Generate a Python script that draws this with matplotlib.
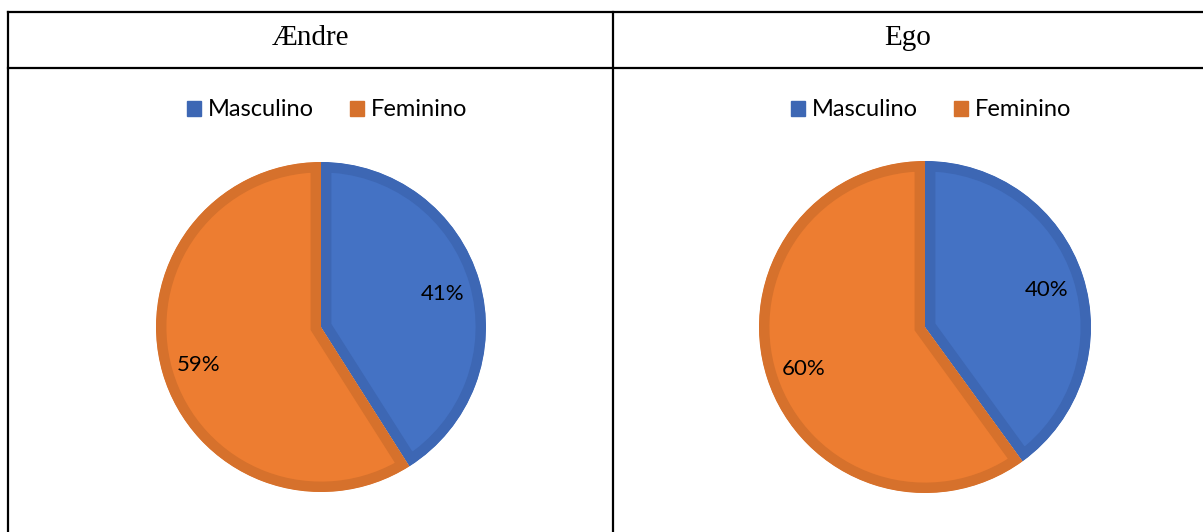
import matplotlib.pyplot as plt
from matplotlib.lines import Line2D
from matplotlib.patches import Patch

W, H = 1203, 532

titles = ["Ændre", "Ego"]
labels = ["Masculino", "Feminino"]
values_aendre = [41, 59]
values_ego = [40, 60]

fill_colors = ["#4472C4", "#ED7D31"]
edge_colors = ["#3D67B4", "#D6712C"]

plt.rcParams['font.family'] = ['Lato', 'DejaVu Sans']

fig = plt.figure(figsize=(W / 100, H / 100), dpi=100)


def fx(x):
    return x / W


def fy(y):
    return 1 - y / H


def hline(y, x0, x1):
    fig.add_artist(Line2D([fx(x0), fx(x1)], [fy(y), fy(y)], color="black", lw=1.6))


def vline(x, y0, y1):
    fig.add_artist(Line2D([fx(x), fx(x)], [fy(y0), fy(y1)], color="black", lw=1.6))


# table grid
hline(12, 8, W)
hline(68, 8, W)
vline(8, 12, H)
vline(613, 12, H)


def draw_cell(title, values, tx, cx, cy, r):
    fig.text(fx(tx), fy(38), title, ha="center", va="center", fontsize=21,
             family=["Liberation Serif", "DejaVu Serif"])
    ax = fig.add_axes([fx(cx - r), fy(cy + r), 2 * r / W, 2 * r / H])
    wedges, _, autotexts = ax.pie(values, colors=fill_colors, startangle=90,
                                  counterclock=False, autopct="%1.0f%%",
                                  pctdistance=0.77, radius=1,
                                  wedgeprops=dict(linewidth=15, joinstyle="miter"),
                                  textprops=dict(fontsize=16, color="black"))
    # keep only the inner half of the outline, like the office-style border
    for w, ec in zip(wedges, edge_colors):
        w.set_edgecolor(ec)
        w.set_clip_path(w)
        w.set_clip_on(True)
    for t in autotexts:
        x, y = t.get_position()
        t.set_position((x, y - 0.015))
    ax.set_xlim(-1, 1)
    ax.set_ylim(-1, 1)
    ax.set_aspect("equal")
    ax.axis("off")
    handles = [Patch(facecolor=c, edgecolor=c) for c in edge_colors]
    fig.legend(handles, labels, loc="center", bbox_to_anchor=(fx(cx + 6), fy(110)),
               ncol=2, frameon=False, fontsize=17, handlelength=0.6,
               handleheight=0.6, handletextpad=0.3, columnspacing=1.5)


draw_cell(titles[0], values_aendre, 311, 321, 327, 165)
draw_cell(titles[1], values_ego, 908, 925, 327, 166)

fig.savefig("out.png", dpi=100)
